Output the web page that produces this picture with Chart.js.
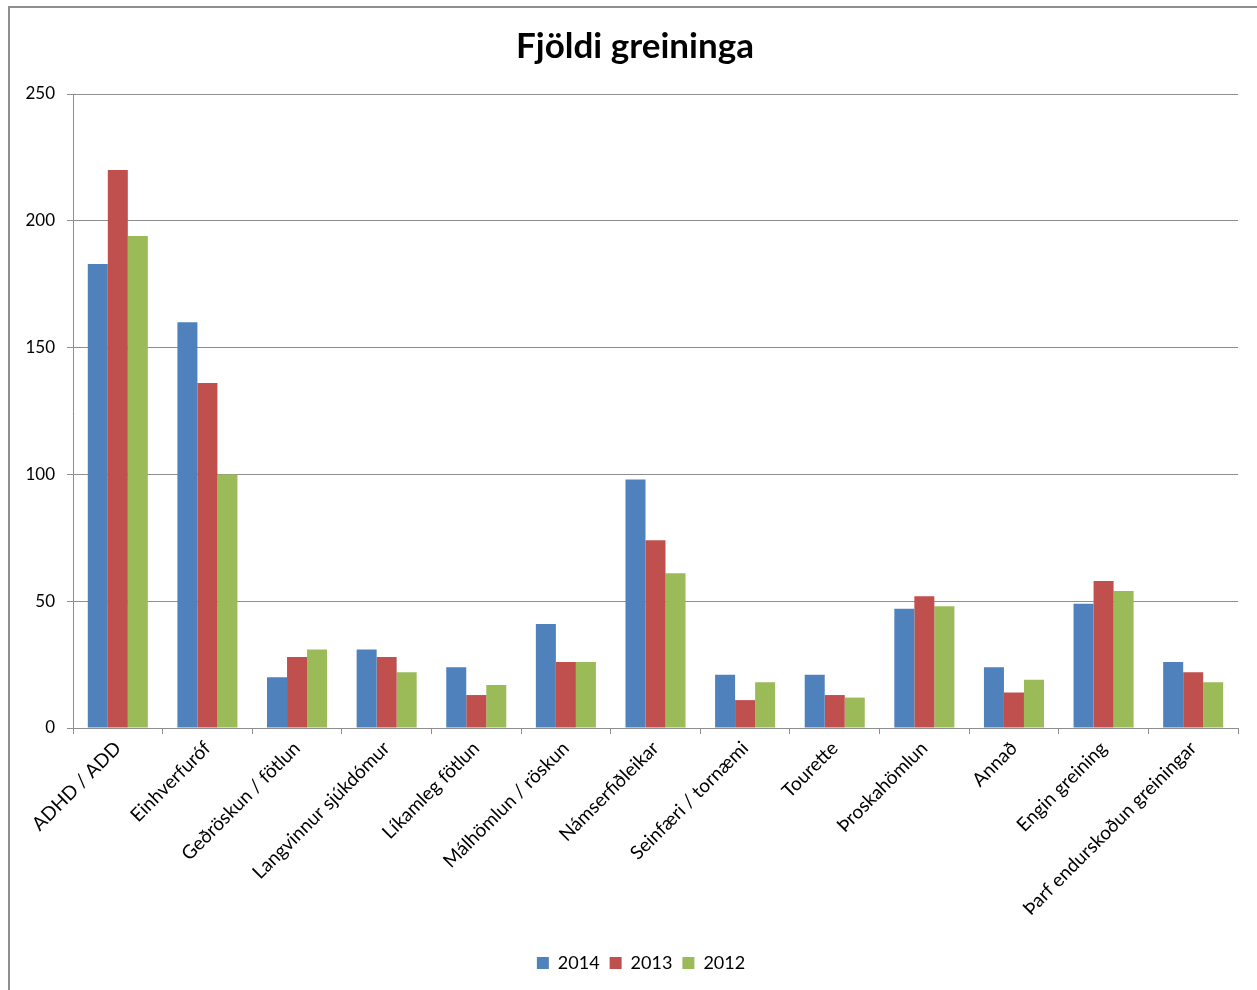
<!DOCTYPE html>
<html>
<head>
<meta charset="utf-8">
<script src="https://cdn.jsdelivr.net/npm/chart.js@4"></script>
<style>
  html, body { margin: 0; padding: 0; background: #fff; overflow: hidden; }
  #frame { position: absolute; left: 8px; top: 6px; width: 1300px; height: 1100px; border: 2px solid #8e8e8e; }
  #wrap { position: absolute; left: 0; top: 0; width: 1257px; height: 990px; }
</style>
</head>
<body>
<div id="frame"></div>
<div id="wrap"><canvas id="chart"></canvas></div>
<script>
const categories = ["ADHD / ADD", "Einhverfuróf", "Geðröskun / fötlun", "Langvinnur sjúkdómur",
  "Líkamleg fötlun", "Málhömlun / röskun", "Námserfiðleikar", "Seinfæri / tornæmi",
  "Tourette", "Þroskahömlun", "Annað", "Engin greining", "Þarf endurskoðun greiningar"];
const years = ["2014", "2013", "2012"];
const values2014 = [183, 160, 20, 31, 24, 41, 98, 21, 21, 47, 24, 49, 26];
const values2013 = [220, 136, 28, 28, 13, 26, 74, 11, 13, 52, 14, 58, 22];
const values2012 = [194, 100, 31, 22, 17, 26, 61, 18, 12, 48, 19, 54, 18];
const yTicks = [0, 50, 100, 150, 200, 250];

const colors = ["#4F81BD", "#C0504D", "#9BBB59"];
const font = "Lato, 'Open Sans', sans-serif";

// nudge title and legend a bit right, like the original
const boxShift = {
  id: "boxShift",
  afterLayout(chart) {
    const l = chart.legend;
    if (l) { l.left += 22; l.right += 22; }
    const t = chart.titleBlock;
    if (t) { t.left += 16; t.right += 16; }
  }
};

const ctx = document.getElementById("chart").getContext("2d");
new Chart(ctx, {
  type: "bar",
  data: {
    labels: categories,
    datasets: [values2014, values2013, values2012].map((d, i) => ({
      label: years[i], data: d, backgroundColor: colors[i],
      categoryPercentage: 0.67, barPercentage: 1.0
    }))
  },
  options: {
    responsive: true, maintainAspectRatio: false, animation: false,
    layout: { padding: { left: 0, right: 19, top: 0, bottom: 8 } },
    plugins: {
      title: { display: true, text: "Fjöldi greininga", color: "#000",
        font: { family: font, size: 35, weight: "bold" }, padding: { top: 26, bottom: 26 } },
      legend: { position: "bottom",
        labels: { color: "#000", boxWidth: 12, boxHeight: 12, padding: 10,
          font: { family: font, size: 18 } } },
      tooltip: { enabled: false }
    },
    scales: {
      x: {
        grid: { drawOnChartArea: false, drawTicks: true, tickLength: 6, color: "#8e8e8e" },
        border: { color: "#8e8e8e" },
        ticks: { color: "#000", minRotation: 45, maxRotation: 45, autoSkip: false,
          font: { family: font, size: 19 } },
        afterFit: s => { s.height = 216; }
      },
      y: {
        min: 0, max: 250,
        afterBuildTicks: s => { s.ticks = yTicks.map(v => ({ value: v })); },
        grid: { color: "#8e8e8e", tickLength: 6 },
        border: { color: "#8e8e8e" },
        ticks: { color: "#000", padding: 12, font: { family: font, size: 17 } },
        afterFit: s => { s.width = 73; }
      }
    }
  },
  plugins: [boxShift]
});
</script>
</body>
</html>
